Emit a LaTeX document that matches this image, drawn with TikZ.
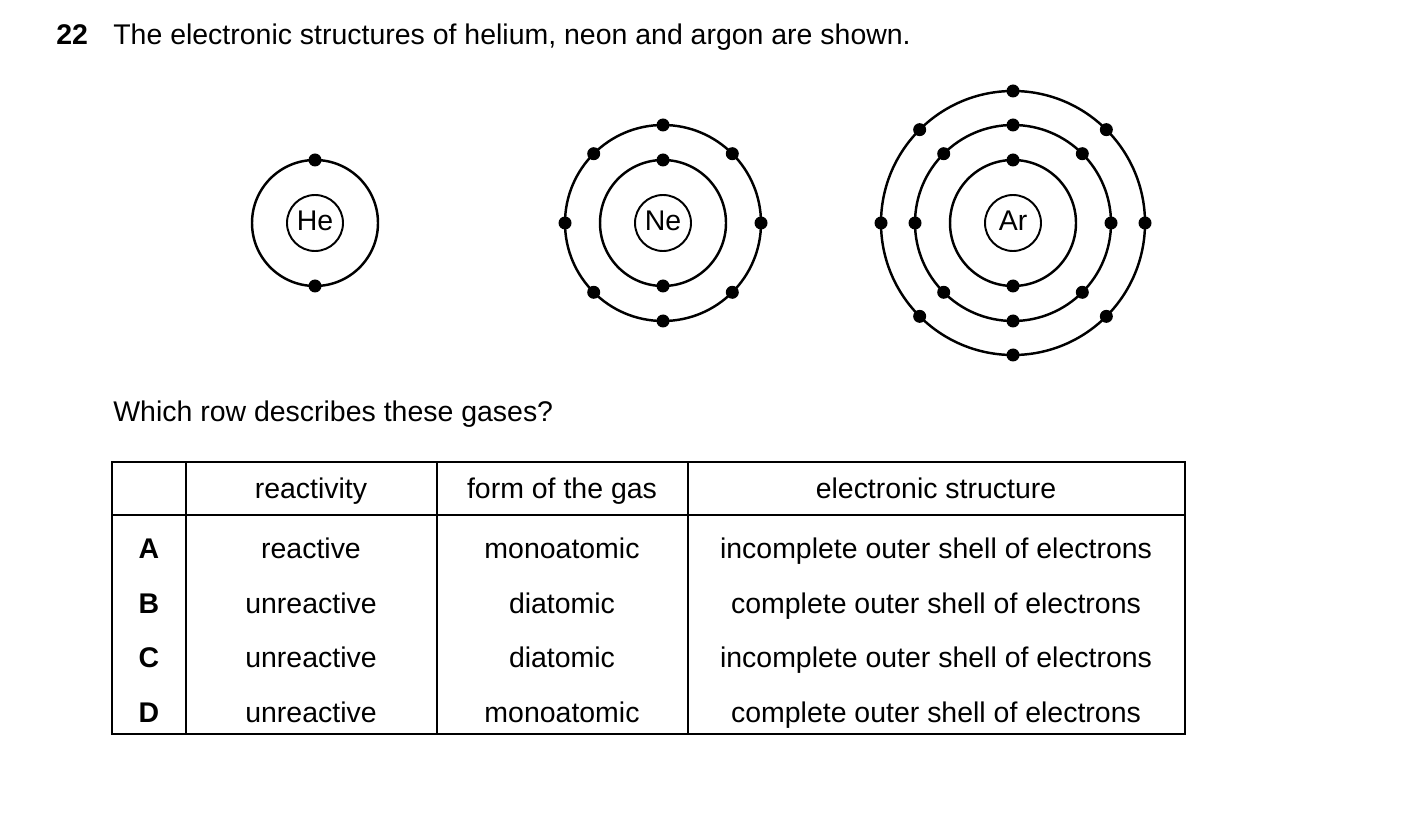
\documentclass[tikz,border=0pt]{standalone}
\usepackage{fontspec}
\setmainfont{Liberation Sans}
\usetikzlibrary{calc}
\begin{document}
\begin{tikzpicture}[x=0.02cm,y=-0.02cm,
  shell/.style={line width=1.4pt},
  electron/.style={fill=black},
  txt/.style={font=\fontsize{16.2pt}{19pt}\selectfont,inner sep=0pt},
  cell/.style={txt,anchor=base}]
\useasboundingbox (0,0) rectangle (1403,827);
\node[txt,anchor=base west,font=\fontsize{16.2pt}{19pt}\selectfont\bfseries] (num) at (56,45) {22};
\node[txt,anchor=base west] (title) at (113,45) {The electronic structures of helium, neon and argon are shown.};
% atoms
\foreach \cx/\el/\n in {315/He/1,663/Ne/2,1013/Ar/3}{
  \coordinate (c\el) at (\cx,223);
  \draw[line width=1.1pt] (c\el) circle [radius=28];
  \node[txt,anchor=base] at ($(c\el)+(0,8)$) {\el};
  \draw[shell] (c\el) circle [radius=63];
  \fill[electron] ($(c\el)+(0,-63)$) circle [radius=6.5];
  \fill[electron] ($(c\el)+(0,63)$) circle [radius=6.5];
  \ifnum\n>1
    \draw[shell] (c\el) circle [radius=98];
    \foreach \a in {0,45,...,315}
      \fill[electron] ($(c\el)+(\a:98)$) circle [radius=6.5];
  \fi
  \ifnum\n>2
    \draw[shell] (c\el) circle [radius=132];
    \foreach \a in {0,45,...,315}
      \fill[electron] ($(c\el)+(\a:132)$) circle [radius=6.5];
  \fi
}
\node[txt,anchor=base west] (question) at (113,421) {Which row describes these gases?};
% table
\draw[line width=0.8pt] (112,462) rectangle (1185,734);
\draw[line width=0.8pt] (112,515) -- (1185,515);
\foreach \x in {186,437,688}
  \draw[line width=0.8pt] (\x,462) -- (\x,734);
\node[cell] (h1) at (311,498) {reactivity};
\node[cell] (h2) at (562,498) {form of the gas};
\node[cell] (h3) at (936,498) {electronic structure};
\foreach \y/\l/\r/\f/\s in {558/A/reactive/monoatomic/incomplete outer shell of electrons,
  613/B/unreactive/diatomic/complete outer shell of electrons,
  667/C/unreactive/diatomic/incomplete outer shell of electrons,
  722/D/unreactive/monoatomic/complete outer shell of electrons}{
  \node[cell,font=\fontsize{16.2pt}{19pt}\selectfont\bfseries] (row\l) at (149,\y) {\l};
  \node[cell] at (311,\y) {\r};
  \node[cell] at (562,\y) {\f};
  \node[cell] at (936,\y) {\s};
}
\end{tikzpicture}
\end{document}
